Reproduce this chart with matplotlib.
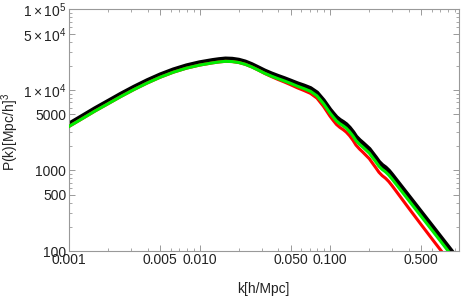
import matplotlib
matplotlib.use('Agg')
import matplotlib.pyplot as plt
from matplotlib.ticker import FixedLocator, FixedFormatter, NullFormatter

plt.rcParams['font.family'] = ['Liberation Sans', 'DejaVu Sans']
plt.rcParams['mathtext.fontset'] = 'custom'
plt.rcParams['mathtext.rm'] = 'Liberation Sans'
plt.rcParams['mathtext.it'] = 'Liberation Sans:italic'

# wavenumbers k [h/Mpc]
k = [0.001, 0.00126, 0.00158, 0.002, 0.00251, 0.00316, 0.00398, 0.00501, 0.00631, 0.00794,
     0.01, 0.0126, 0.0141, 0.0158, 0.0178, 0.02, 0.0224, 0.0251, 0.0282, 0.0316,
     0.0355, 0.0398, 0.0447, 0.0501, 0.0562, 0.0631, 0.0708, 0.0794, 0.0891, 0.1,
     0.106, 0.112, 0.119, 0.126, 0.133, 0.141, 0.15, 0.158, 0.168, 0.178,
     0.188, 0.2, 0.211, 0.224, 0.237, 0.251, 0.266, 0.282, 0.299, 0.316,
     0.398, 0.501, 0.631, 0.794, 0.891]

# power spectra P(k) [Mpc/h]^3
p_black = [3784, 4721, 5874, 7277, 8954, 10914, 13122, 15490, 17860, 20040,
           21880, 23340, 23940, 24380, 24210, 23550, 22390, 20790, 18960, 17300,
           15960, 14870, 13900, 12940, 12020, 11270, 10470, 9226, 7412, 5688,
           5070, 4571, 4217, 3981, 3732, 3388, 2985, 2630, 2372, 2188,
           2018, 1840, 1641, 1446, 1274, 1161, 1084, 988.6, 881.0, 785.2,
           486.4, 301.3, 186.6, 115.6, 91.0]
p_green = [3524, 4395, 5470, 6776, 8336, 10163, 12218, 14427, 16635, 18660,
           20370, 21720, 22290, 22700, 22540, 21930, 20840, 19360, 17660, 16110,
           14860, 13840, 12940, 12050, 11140, 10400, 9628, 8452, 6761, 5164,
           4592, 4130, 3806, 3589, 3357, 3040, 2676, 2355, 2121, 1954,
           1801, 1641, 1459, 1284, 1130, 1030, 961.6, 877.0, 781.6, 696.7,
           431.5, 267.3, 165.6, 102.6, 80.7]
p_red = [3524, 4395, 5470, 6776, 8336, 10163, 12218, 14427, 16635, 18660,
         20370, 21720, 22290, 22700, 22540, 21930, 20840, 19360, 17660, 16030,
         14690, 13550, 12560, 11590, 10640, 9863, 9079, 7925, 6266, 4721,
         4169, 3732, 3427, 3221, 3002, 2710, 2369, 2070, 1851, 1695,
         1549, 1400, 1239, 1084, 950.7, 862.9, 801.7, 727.7, 645.7, 572.8,
         345.9, 210.8, 129.1, 79.6, 62.5]

x_major = [0.001, 0.005, 0.01, 0.05, 0.1, 0.5]
x_labels = ['0.001', '0.005', '0.010', '0.050', '0.100', '0.500']
y_major = [100, 500, 1000, 5000, 1e4, 5e4, 1e5]
y_labels = ['100', '500', '1000', '5000', r'$1\times10^{4}$', r'$5\times10^{4}$', r'$1\times10^{5}$']

fig = plt.figure(figsize=(4.63, 2.96), dpi=100)
ax = fig.add_axes([0.149, 0.152, 0.842, 0.816])

ax.plot(k, p_black, color='black', lw=3.3, zorder=2, solid_joinstyle='round')
ax.plot(k, p_red, color='red', lw=2.2, zorder=3, solid_joinstyle='round')
ax.plot(k, p_green, color='#00ee00', lw=2.2, zorder=4, solid_joinstyle='round')

ax.set_xscale('log')
ax.set_yscale('log')
ax.set_xlim(0.001, 0.97)
ax.set_ylim(100, 1e5)

x_minor = [m * d for d in [0.001, 0.01, 0.1] for m in range(2, 10) if m != 5]
y_minor = [m * d for d in [100, 1000, 10000] for m in range(2, 10) if m != 5]
ax.xaxis.set_major_locator(FixedLocator(x_major))
ax.xaxis.set_major_formatter(FixedFormatter(x_labels))
ax.xaxis.set_minor_locator(FixedLocator(x_minor))
ax.xaxis.set_minor_formatter(NullFormatter())
ax.yaxis.set_major_locator(FixedLocator(y_major))
ax.yaxis.set_major_formatter(FixedFormatter(y_labels))
ax.yaxis.set_minor_locator(FixedLocator(y_minor))
ax.yaxis.set_minor_formatter(NullFormatter())

ax.tick_params(which='both', direction='in', top=True, right=True,
               color='#999999', labelsize=10, labelcolor='#222222')
ax.tick_params(which='major', length=4, width=0.7)
ax.tick_params(which='minor', length=2, width=0.6)
ax.tick_params(axis='x', pad=1.5)
ax.tick_params(axis='y', pad=2)
for s in ax.spines.values():
    s.set_color('#999999')
    s.set_linewidth(0.8)

fig.text(0.568, 0.024, 'k[h/Mpc]', ha='center', va='center', fontsize=10, color='#222222')
fig.text(0.022, 0.554, r'P(k)[Mpc/h]$^3$', ha='center', va='center', rotation=90,
         fontsize=10, color='#222222')

fig.savefig('out.png', dpi=100)
